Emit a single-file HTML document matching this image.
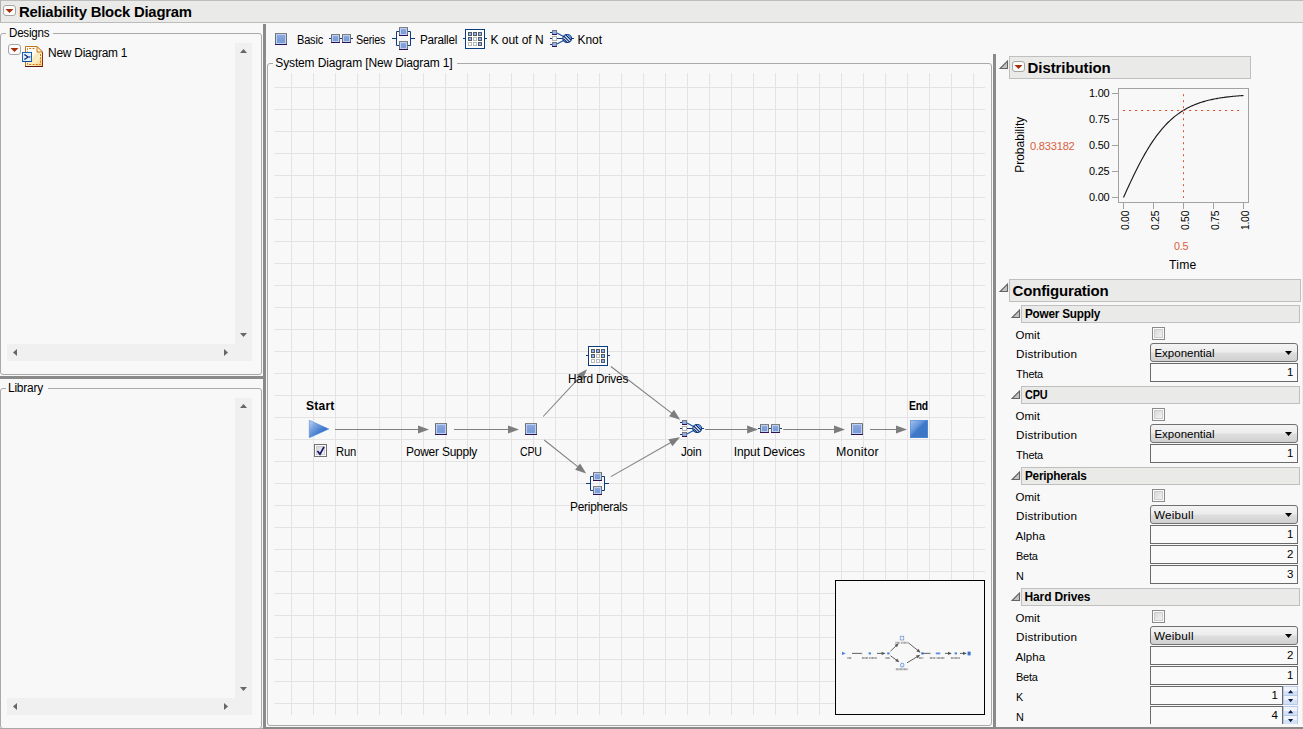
<!DOCTYPE html>
<html><head><meta charset="utf-8"><title>Reliability Block Diagram</title>
<style>
html,body{margin:0;padding:0;}
body{width:1303px;height:729px;overflow:hidden;background:#f8f8f8;position:relative;font-family:"Liberation Sans",sans-serif;font-size:12px;color:#000;}
.t{position:absolute;white-space:pre;font-family:"Liberation Sans",sans-serif;}
.a{position:absolute;}
.b{position:absolute;box-sizing:border-box;}
svg{position:absolute;overflow:visible;}
.hdr{position:absolute;box-sizing:border-box;background:#eaeae8;border:1px solid #bfbfbf;}
.fld{position:absolute;box-sizing:border-box;background:#fafafa;border:1px solid #6a6a6a;height:19px;}
.dd{position:absolute;box-sizing:border-box;height:19px;border:1px solid #707070;border-radius:3px;background:linear-gradient(#f4f4f4 0%,#ececec 48%,#dedede 52%,#d0d0d0 100%);}
.cb{position:absolute;box-sizing:border-box;width:13px;height:13px;border:1px solid #8e8f8f;background:#f4f4f4;}
.cb i{position:absolute;left:1px;top:1px;width:9px;height:9px;background:linear-gradient(135deg,#d6d6d6,#f6f6f6);border:0;}
.trk{position:absolute;background:#f0f0f0;}
.grp{position:absolute;box-sizing:border-box;border:1px solid #a9a9a9;border-radius:3px;}
.spl{position:absolute;background:#8a8a8a;}

</style></head>
<body>
<svg width="0" height="0" style="position:absolute"><defs>
<linearGradient id="gb" x1="0" y1="0" x2="0" y2="1"><stop offset="0" stop-color="#93b0e2"/><stop offset="0.5" stop-color="#7f9fd8"/><stop offset="1" stop-color="#7b9bd6"/></linearGradient>
<linearGradient id="gtri" x1="0" y1="0" x2="1" y2="0.9"><stop offset="0" stop-color="#c4d6f2"/><stop offset="0.3" stop-color="#7ea4e0"/><stop offset="0.65" stop-color="#3d78cc"/><stop offset="1" stop-color="#2f6cc4"/></linearGradient>
<linearGradient id="gend" x1="0" y1="0" x2="1" y2="1"><stop offset="0" stop-color="#a9c4ee"/><stop offset="0.35" stop-color="#6c9adc"/><stop offset="0.5" stop-color="#3e78c8"/><stop offset="1" stop-color="#3a74c4"/></linearGradient>
<linearGradient id="gdoc" x1="0" y1="0" x2="1" y2="1"><stop offset="0" stop-color="#ffffff"/><stop offset="0.42" stop-color="#fffdf0"/><stop offset="0.56" stop-color="#f5e6b2"/><stop offset="0.63" stop-color="#fcf1cb"/><stop offset="1" stop-color="#f6c46c"/></linearGradient>
<linearGradient id="gcb" x1="0" y1="0" x2="1" y2="1"><stop offset="0" stop-color="#d6d6d6"/><stop offset="0.5" stop-color="#e6e6e6"/><stop offset="1" stop-color="#f2f2f2"/></linearGradient>
<g id="bx12"><rect x="0.5" y="0.5" width="11" height="11" fill="url(#gb)" stroke="#6c7076"/><rect x="1.5" y="1.5" width="9" height="9" fill="none" stroke="#bcd0f6"/><rect x="0" y="0" width="12" height="1" fill="#818181"/><rect x="0" y="11" width="12" height="1" fill="#2d1152"/></g>
<g id="bx9"><rect x="0.5" y="0.5" width="8" height="8" fill="url(#gb)" stroke="#6c7076"/><rect x="1.5" y="1.5" width="6" height="6" fill="none" stroke="#bcd0f6"/><rect x="0" y="0" width="9" height="1" fill="#818181"/><rect x="0" y="8" width="9" height="1" fill="#2d1152"/></g>
<g id="bx5"><rect x="0.5" y="0.5" width="4" height="4" fill="#8fb0f0" stroke="#74787e"/><rect x="0" y="4" width="5" height="1" fill="#2d1152"/></g>
<g id="bx5w"><rect x="0.5" y="0.5" width="4" height="4" fill="#ffffff" stroke="#b4b4b4"/></g>
<g id="cf"><rect x="0.5" y="0.5" width="3" height="3" fill="#8fb4ff" stroke="#565a60"/></g>
<g id="ce"><rect x="0.5" y="0.5" width="3" height="3" fill="#ffffff" stroke="#b8b8b8"/></g>
<!-- series icon: origin at first stub (x=0..24, y=0..9) -->
<g id="iser"><rect x="0" y="4" width="24" height="1" fill="#0c3c80"/><use href="#bx9" x="2" y="0"/><use href="#bx9" x="13" y="0"/></g>
<!-- parallel icon: 23x23 -->
<g id="ipar"><path d="M0 11.5H4.5M18.5 11.5H23M7 4.5H4.5V18.5H7M16 4.5H18.5V18.5H16" fill="none" stroke="#0c3c80"/><use href="#bx9" x="7" y="0"/><use href="#bx9" x="7" y="14"/></g>
<!-- k of n icon: 24x20, box at x=2..22 -->
<g id="ikn"><rect x="0" y="9" width="24" height="1" fill="#0c3c80"/><rect x="2.5" y="0.5" width="19" height="19" fill="#ffffff" stroke="#0c3c80"/>
<use href="#cf" x="5" y="3"/><use href="#cf" x="10" y="3"/><use href="#cf" x="15" y="3"/>
<use href="#cf" x="5" y="8"/><use href="#ce" x="10" y="8"/><use href="#cf" x="15" y="8"/>
<use href="#ce" x="5" y="13"/><use href="#ce" x="10" y="13"/><use href="#cf" x="15" y="13"/></g>
<!-- knot icon: origin (550,30) => 24 x 17 -->
<g id="iknot"><path d="M0 2.5H2M0 8.5H2M0 14.5H2M7 8.5H13M22 8.5H24" stroke="#0c3c80" fill="none"/><path d="M7 3L13.5 6.5M7 14L13.5 10.5" stroke="#1a55a8" fill="none" stroke-width="1.2"/>
<use href="#bx5" x="2" y="0"/><use href="#bx5w" x="2" y="6"/><use href="#bx5" x="2" y="12"/>
<ellipse cx="17.2" cy="8.5" rx="4.35" ry="4.0" fill="#dfe9fb" stroke="#0c3c80" stroke-width="1.2"/><path d="M13.8 6.2L19.5 11.8M15.6 4.6L21 10M13.6 8.8L17.4 12.6" stroke="#06206a" stroke-width="1.1" fill="none"/><path d="M17.6 4.6L21 8" stroke="#3f7fd8" stroke-width="1" fill="none"/></g>
<g id="ah"><path d="M0 0L-11 -4L-11 4Z" fill="#7d7d7d"/></g>
</defs></svg>
<div class="a" style="left:0px;top:0px;width:1303px;height:23px;background:#eaeae8;border-top:1px solid #bdbdbd;border-bottom:1px solid #bcbcbc;border-left:1px solid #b0b0b0;box-sizing:border-box;"></div>
<svg style="left:3px;top:5px" width="13" height="11" viewBox="0 0 13 11"><rect x="0.5" y="0.5" width="12" height="10" rx="2.5" fill="#fbfbfb" stroke="#a6a6a6"/><path d="M2.5 4.0H10.5L6.5 8.0Z" fill="#a2300c"/></svg>
<span class="t" style="left:19.00px;top:4.00px;font-size:15px;line-height:15px;font-weight:700;letter-spacing:-0.220px;transform-origin:0 0;transform:scaleX(0.9902);">Reliability Block Diagram</span>
<div class="grp" style="left:0px;top:33px;width:262px;height:342px;"></div>
<div class="a" style="left:6px;top:33px;width:47px;height:1px;background:#f8f8f8;"></div>
<span class="t" style="left:8.50px;top:27.00px;font-size:12px;line-height:12px;letter-spacing:-0.220px;transform-origin:0 0;transform:scaleX(0.9630);">Designs</span>
<div class="grp" style="left:0px;top:388px;width:262px;height:341px;"></div>
<div class="a" style="left:6px;top:388px;width:42px;height:1px;background:#f8f8f8;"></div>
<span class="t" style="left:8.40px;top:382.00px;font-size:12px;line-height:12px;letter-spacing:-0.220px;transform-origin:0 0;transform:scaleX(0.9942);">Library</span>
<div class="trk" style="left:235px;top:43px;width:17px;height:318px;"></div>
<div class="trk" style="left:7px;top:344px;width:245px;height:17px;"></div>
<svg style="left:240px;top:49px" width="7" height="4" viewBox="0 0 7 4"><path d="M3.5 0L7 4H0Z" fill="#666"/></svg>
<svg style="left:240px;top:333px" width="7" height="4" viewBox="0 0 7 4"><path d="M0 0H7L3.5 4Z" fill="#666"/></svg>
<svg style="left:13px;top:349px" width="4" height="7" viewBox="0 0 4 7"><path d="M4 0V7L0 3.5Z" fill="#666"/></svg>
<svg style="left:224px;top:349px" width="4" height="7" viewBox="0 0 4 7"><path d="M0 0V7L4 3.5Z" fill="#666"/></svg>
<div class="trk" style="left:235px;top:398px;width:17px;height:317px;"></div>
<div class="trk" style="left:7px;top:698px;width:245px;height:17px;"></div>
<svg style="left:240px;top:404px" width="7" height="4" viewBox="0 0 7 4"><path d="M3.5 0L7 4H0Z" fill="#666"/></svg>
<svg style="left:240px;top:687px" width="7" height="4" viewBox="0 0 7 4"><path d="M0 0H7L3.5 4Z" fill="#666"/></svg>
<svg style="left:13px;top:703px" width="4" height="7" viewBox="0 0 4 7"><path d="M4 0V7L0 3.5Z" fill="#666"/></svg>
<svg style="left:224px;top:703px" width="4" height="7" viewBox="0 0 4 7"><path d="M0 0V7L4 3.5Z" fill="#666"/></svg>
<svg style="left:8px;top:44px" width="13" height="11" viewBox="0 0 13 11"><rect x="0.5" y="0.5" width="12" height="10" rx="2.5" fill="#fbfbfb" stroke="#a6a6a6"/><path d="M2.5 4.0H10.5L6.5 8.0Z" fill="#a2300c"/></svg>
<svg style="left:22px;top:46px" width="21" height="21" viewBox="0 0 21 21"><path d="M3.5 0.5H15L20.5 6V20.5H3.5Z" fill="url(#gdoc)" stroke="#c8741c"/>
<path d="M3 20.5H21" stroke="#5e1212"/><path d="M20.5 6.5V20.5" stroke="#8a3018"/>
<path d="M15 0.5V6H20.5Z" fill="#fff8d8" stroke="#c8741c"/>
<path d="M5.5 14V2.5H13M18.5 8V18.5H5.5V14" fill="none" stroke="#d07414" stroke-dasharray="2 1.3"/>
<rect x="0.5" y="6.5" width="9" height="9" fill="#e6edfa" stroke="#1c62b4"/><path d="M0.5 15.5H9.5" stroke="#0c4a9a"/>
<path d="M2.5 8.5L6 11L2.5 13.5M6 11H8" fill="none" stroke="#0a1f5c" stroke-width="1.1"/><rect x="2" y="8" width="1.5" height="1.5" fill="#3f7fe0"/><rect x="2" y="12.5" width="1.5" height="1.5" fill="#3f7fe0"/><rect x="7" y="10.2" width="1.5" height="1.5" fill="#3f7fe0"/></svg>
<span class="t" style="left:47.50px;top:46.70px;font-size:12px;line-height:12px;letter-spacing:-0.220px;transform-origin:0 0;transform:scaleX(0.9924);">New Diagram 1</span>
<div class="spl" style="left:263px;top:24px;width:3px;height:705px;"></div>
<div class="spl" style="left:0px;top:376px;width:263px;height:3px;"></div>
<div class="spl" style="left:993px;top:54px;width:3px;height:675px;"></div>
<div class="spl" style="left:263px;top:727px;width:1040px;height:2px;"></div>
<div class="a" style="left:0px;top:728px;width:263px;height:1px;background:#a8a8a8;"></div>
<svg style="left:275px;top:33px" width="12" height="12" viewBox="0 0 12 12"><use href="#bx12"/></svg>
<span class="t" style="left:296.50px;top:34.00px;font-size:12px;line-height:12px;letter-spacing:-0.220px;transform-origin:0 0;transform:scaleX(0.9195);">Basic</span>
<svg style="left:329px;top:34px" width="24" height="9" viewBox="0 0 24 9"><use href="#iser"/></svg>
<span class="t" style="left:356.40px;top:34.00px;font-size:12px;line-height:12px;letter-spacing:-0.220px;transform-origin:0 0;transform:scaleX(0.8936);">Series</span>
<svg style="left:392px;top:27px" width="23" height="23" viewBox="0 0 23 23"><use href="#ipar"/></svg>
<span class="t" style="left:419.60px;top:34.00px;font-size:12px;line-height:12px;letter-spacing:-0.220px;transform-origin:0 0;transform:scaleX(0.9698);">Parallel</span>
<svg style="left:463px;top:29px" width="24" height="20" viewBox="0 0 24 20"><use href="#ikn"/></svg>
<span class="t" style="left:490.50px;top:34.00px;font-size:12px;line-height:12px;letter-spacing:-0.031px;">K out of N</span>
<svg style="left:550px;top:30px" width="24" height="17" viewBox="0 0 24 17"><use href="#iknot"/></svg>
<span class="t" style="left:577.60px;top:34.00px;font-size:12px;line-height:12px;letter-spacing:-0.075px;">Knot</span>
<div class="grp" style="left:267px;top:63px;width:725px;height:663px;"></div>
<div class="a" style="left:273px;top:63px;width:184px;height:1px;background:#f8f8f8;"></div>
<span class="t" style="left:275.30px;top:57.00px;font-size:12px;line-height:12px;letter-spacing:-0.141px;">System Diagram [New Diagram 1]</span>
<svg style="left:274px;top:73px" width="711" height="642" viewBox="0 0 711 642"><g fill="#e3e3e3"><rect x="17" y="0" width="1" height="642" /><rect x="39" y="0" width="1" height="642" /><rect x="61" y="0" width="1" height="642" /><rect x="83" y="0" width="1" height="642" /><rect x="105" y="0" width="1" height="642" /><rect x="127" y="0" width="1" height="642" /><rect x="149" y="0" width="1" height="642" /><rect x="171" y="0" width="1" height="642" /><rect x="193" y="0" width="1" height="642" /><rect x="215" y="0" width="1" height="642" /><rect x="237" y="0" width="1" height="642" /><rect x="259" y="0" width="1" height="642" /><rect x="281" y="0" width="1" height="642" /><rect x="303" y="0" width="1" height="642" /><rect x="325" y="0" width="1" height="642" /><rect x="347" y="0" width="1" height="642" /><rect x="369" y="0" width="1" height="642" /><rect x="391" y="0" width="1" height="642" /><rect x="413" y="0" width="1" height="642" /><rect x="435" y="0" width="1" height="642" /><rect x="457" y="0" width="1" height="642" /><rect x="479" y="0" width="1" height="642" /><rect x="501" y="0" width="1" height="642" /><rect x="523" y="0" width="1" height="642" /><rect x="545" y="0" width="1" height="642" /><rect x="567" y="0" width="1" height="642" /><rect x="589" y="0" width="1" height="642" /><rect x="611" y="0" width="1" height="642" /><rect x="633" y="0" width="1" height="642" /><rect x="655" y="0" width="1" height="642" /><rect x="677" y="0" width="1" height="642" /><rect x="699" y="0" width="1" height="642" /><rect x="0" y="14" width="711" height="1" /><rect x="0" y="36" width="711" height="1" /><rect x="0" y="58" width="711" height="1" /><rect x="0" y="80" width="711" height="1" /><rect x="0" y="102" width="711" height="1" /><rect x="0" y="124" width="711" height="1" /><rect x="0" y="146" width="711" height="1" /><rect x="0" y="168" width="711" height="1" /><rect x="0" y="190" width="711" height="1" /><rect x="0" y="212" width="711" height="1" /><rect x="0" y="234" width="711" height="1" /><rect x="0" y="256" width="711" height="1" /><rect x="0" y="278" width="711" height="1" /><rect x="0" y="300" width="711" height="1" /><rect x="0" y="322" width="711" height="1" /><rect x="0" y="344" width="711" height="1" /><rect x="0" y="366" width="711" height="1" /><rect x="0" y="388" width="711" height="1" /><rect x="0" y="410" width="711" height="1" /><rect x="0" y="432" width="711" height="1" /><rect x="0" y="454" width="711" height="1" /><rect x="0" y="476" width="711" height="1" /><rect x="0" y="498" width="711" height="1" /><rect x="0" y="520" width="711" height="1" /><rect x="0" y="542" width="711" height="1" /><rect x="0" y="564" width="711" height="1" /><rect x="0" y="586" width="711" height="1" /><rect x="0" y="608" width="711" height="1" /><rect x="0" y="630" width="711" height="1" /></g></svg>
<svg style="left:0px;top:0px" width="1303" height="729" viewBox="0 0 1303 729"><path d="M309.3 420.3L328.8 429L309.3 437.7Z" fill="url(#gtri)" stroke="#4a86d6" stroke-width="0.6"/><path d="M335.0 429.5L421.0 429.5" stroke="#808080" stroke-width="1.05" fill="none"/><g transform="translate(429.0 429.5) rotate(0.00)"><use href="#ah"/></g><use href="#bx12" x="435" y="423"/><path d="M454.0 429.5L511.0 429.5" stroke="#808080" stroke-width="1.05" fill="none"/><g transform="translate(519.0 429.5) rotate(0.00)"><use href="#ah"/></g><use href="#bx12" x="525" y="423"/><path d="M543.2 416.5L581.6 375.2" stroke="#808080" stroke-width="1.05" fill="none"/><g transform="translate(587.0 369.3) rotate(-47.14)"><use href="#ah"/></g><path d="M544.2 440.0L579.9 468.4" stroke="#808080" stroke-width="1.05" fill="none"/><g transform="translate(586.2 473.4) rotate(38.49)"><use href="#ah"/></g><use href="#ikn" x="586" y="346"/><use href="#ipar" x="586" y="472"/><path d="M610.9 366.5L673.9 414.8" stroke="#808080" stroke-width="1.05" fill="none"/><g transform="translate(680.2 419.7) rotate(37.51)"><use href="#ah"/></g><path d="M610.9 476.6L673.0 441.3" stroke="#808080" stroke-width="1.05" fill="none"/><g transform="translate(680.0 437.3) rotate(-29.63)"><use href="#ah"/></g><use href="#iknot" x="680" y="420"/><path d="M705.0 429.5L750.1 429.5" stroke="#808080" stroke-width="1.05" fill="none"/><g transform="translate(758.1 429.5) rotate(0.00)"><use href="#ah"/></g><use href="#iser" x="758" y="424"/><path d="M783.2 429.5L837.0 429.5" stroke="#808080" stroke-width="1.05" fill="none"/><g transform="translate(845.0 429.5) rotate(0.00)"><use href="#ah"/></g><use href="#bx12" x="851" y="423"/><path d="M870.0 429.5L899.0 429.5" stroke="#808080" stroke-width="1.05" fill="none"/><g transform="translate(907.0 429.5) rotate(0.00)"><use href="#ah"/></g><rect x="910" y="420" width="18" height="18" fill="url(#gend)"/><rect x="910.5" y="420.5" width="17" height="17" fill="none" stroke="#5c90dc" stroke-opacity="0.6"/></svg>
<span class="t" style="left:306.10px;top:400.00px;font-size:12px;line-height:12px;font-weight:700;letter-spacing:0.206px;">Start</span>
<span class="t" style="left:908.50px;top:400.00px;font-size:12px;line-height:12px;font-weight:700;letter-spacing:-0.220px;transform-origin:0 0;transform:scaleX(0.8609);">End</span>
<svg style="left:314px;top:444px" width="13" height="13" viewBox="0 0 13 13"><rect x="0.5" y="0.5" width="12" height="12" fill="#fbfbfb" stroke="#737373"/><rect x="2.5" y="2.5" width="8" height="8" fill="url(#gcb)" stroke="#cdcdcd"/><path d="M3.5 6.9L6 10.2L10 2.9" fill="none" stroke="#15156c" stroke-width="1.7"/></svg>
<span class="t" style="left:335.50px;top:446.00px;font-size:12px;line-height:12px;letter-spacing:-0.220px;transform-origin:0 0;transform:scaleX(0.9369);">Run</span>
<span class="t" style="left:405.50px;top:446.00px;font-size:12px;line-height:12px;letter-spacing:-0.220px;transform-origin:0 0;transform:scaleX(0.9961);">Power Supply</span>
<span class="t" style="left:519.50px;top:446.00px;font-size:12px;line-height:12px;letter-spacing:-0.220px;transform-origin:0 0;transform:scaleX(0.8783);">CPU</span>
<span class="t" style="left:567.70px;top:373.00px;font-size:12px;line-height:12px;letter-spacing:-0.220px;transform-origin:0 0;transform:scaleX(0.9873);">Hard Drives</span>
<span class="t" style="left:569.50px;top:501.00px;font-size:12px;line-height:12px;letter-spacing:-0.220px;transform-origin:0 0;transform:scaleX(0.9855);">Peripherals</span>
<span class="t" style="left:681.00px;top:446.00px;font-size:12px;line-height:12px;letter-spacing:-0.220px;transform-origin:0 0;transform:scaleX(0.9700);">Join</span>
<span class="t" style="left:733.80px;top:446.00px;font-size:12px;line-height:12px;letter-spacing:-0.129px;">Input Devices</span>
<span class="t" style="left:835.70px;top:446.00px;font-size:12px;line-height:12px;letter-spacing:0.220px;transform-origin:0 0;transform:scaleX(1.0310);">Monitor</span>
<div class="a" style="left:835px;top:580px;width:150px;height:135px;background:#f8f8f8;border:1px solid #000;box-sizing:border-box;"></div>
<svg style="left:0px;top:0px" width="1303" height="729" viewBox="0 0 1303 729"><path d="M842 651.8L845.8 653.4L842 655Z" fill="#4a82dc"/><path d="M852 653.4L862 653.4" stroke="#505050" stroke-width="0.9" fill="none"/><rect x="861.7" y="651.6" width="0.6" height="3.4" fill="#cfcfcf"/><rect x="868.6" y="652.4" width="2.4" height="2" fill="#4a82dc"/><path d="M877 653.4L884.6 653.4" stroke="#505050" stroke-width="0.9" fill="none"/><g transform="translate(884.6 653.4) rotate(0.0)"><path d="M0.8 0L-3 -1.7V1.7Z" fill="#555"/></g><rect x="887.2" y="652.4" width="2.4" height="2" fill="#4a82dc"/><path d="M890.5 651.2L898 644" stroke="#505050" stroke-width="0.9" fill="none"/><g transform="translate(898 644) rotate(-43.8)"><path d="M0.8 0L-3 -1.7V1.7Z" fill="#555"/></g><path d="M890.5 655.8L898.6 661.6" stroke="#505050" stroke-width="0.9" fill="none"/><g transform="translate(898.6 661.6) rotate(35.6)"><path d="M0.8 0L-3 -1.7V1.7Z" fill="#555"/></g><rect x="900.2" y="636.2" width="3.6" height="3.8" fill="#eef3fc" stroke="#5c80c0" stroke-width="0.6"/><rect x="900.6" y="663.2" width="3.2" height="3.8" rx="1.4" fill="#eef3fc" stroke="#4a82dc" stroke-width="0.8"/><path d="M908.2 642.7L919.8 652" stroke="#505050" stroke-width="0.9" fill="none"/><g transform="translate(919.8 652) rotate(38.7)"><path d="M0.8 0L-3 -1.7V1.7Z" fill="#555"/></g><path d="M907 662.8L919.4 655.4" stroke="#505050" stroke-width="0.9" fill="none"/><g transform="translate(919.4 655.4) rotate(-30.8)"><path d="M0.8 0L-3 -1.7V1.7Z" fill="#555"/></g><rect x="921.3" y="652.4" width="2.4" height="2" fill="#2f62c0"/><path d="M923.6 653.4L930.3 653.4" stroke="#505050" stroke-width="0.9" fill="none"/><rect x="930" y="651.6" width="0.6" height="3.4" fill="#cfcfcf"/><rect x="935.8" y="652.5" width="4.4" height="1.8" fill="#5a8ce0"/><path d="M945 653.4L951 653.4" stroke="#505050" stroke-width="0.9" fill="none"/><g transform="translate(951 653.4) rotate(0.0)"><path d="M0.8 0L-3 -1.7V1.7Z" fill="#555"/></g><rect x="954.6" y="652.4" width="2.4" height="2" fill="#4a82dc"/><path d="M960 653.4L966 653.4" stroke="#505050" stroke-width="0.9" fill="none"/><g transform="translate(966 653.4) rotate(0.0)"><path d="M0.8 0L-3 -1.7V1.7Z" fill="#555"/></g><rect x="967.6" y="651.6" width="3" height="3.8" fill="#3a74d0"/><path d="M847.48 657.88H851.66" stroke="#6e6e6e" stroke-opacity="0.75" stroke-width="2" stroke-dasharray="0.9 0.45" fill="none"/><path d="M861.96 657.88H868.10" stroke="#6e6e6e" stroke-opacity="0.75" stroke-width="2" stroke-dasharray="0.9 0.45" fill="none"/><path d="M869.33 657.88H876.70" stroke="#6e6e6e" stroke-opacity="0.75" stroke-width="2" stroke-dasharray="0.9 0.45" fill="none"/><path d="M885.53 657.88H890.06" stroke="#6e6e6e" stroke-opacity="0.75" stroke-width="2" stroke-dasharray="0.9 0.45" fill="none"/><path d="M895.50 642.78H900.04" stroke="#6e6e6e" stroke-opacity="0.75" stroke-width="2" stroke-dasharray="0.9 0.45" fill="none"/><path d="M901.18 642.78H907.99" stroke="#6e6e6e" stroke-opacity="0.75" stroke-width="2" stroke-dasharray="0.9 0.45" fill="none"/><path d="M895.87 669.25H907.80" stroke="#6e6e6e" stroke-opacity="0.75" stroke-width="2" stroke-dasharray="0.9 0.45" fill="none"/><path d="M918.93 657.88H923.21" stroke="#6e6e6e" stroke-opacity="0.75" stroke-width="2" stroke-dasharray="0.9 0.45" fill="none"/><path d="M929.85 657.88H935.51" stroke="#6e6e6e" stroke-opacity="0.75" stroke-width="2" stroke-dasharray="0.9 0.45" fill="none"/><path d="M936.64 657.88H944.57" stroke="#6e6e6e" stroke-opacity="0.75" stroke-width="2" stroke-dasharray="0.9 0.45" fill="none"/><path d="M950.92 657.88H959.73" stroke="#6e6e6e" stroke-opacity="0.75" stroke-width="2" stroke-dasharray="0.9 0.45" fill="none"/></svg>
<svg style="left:999px;top:60px" width="9" height="9" viewBox="0 0 9 9"><path d="M8.5 1.1V8.5H1.1Z" fill="#c4c4c4" stroke="#646464" stroke-width="1.1" stroke-linejoin="miter"/></svg>
<div class="hdr" style="left:1009px;top:56px;width:242px;height:23px;"></div>
<svg style="left:1012px;top:61px" width="13" height="11" viewBox="0 0 13 11"><rect x="0.5" y="0.5" width="12" height="10" rx="2.5" fill="#fbfbfb" stroke="#a6a6a6"/><path d="M2.5 4.0H10.5L6.5 8.0Z" fill="#a2300c"/></svg>
<span class="t" style="left:1027.60px;top:60.00px;font-size:15px;line-height:15px;font-weight:700;letter-spacing:-0.093px;">Distribution</span>
<svg style="left:0px;top:0px" width="1303" height="729" viewBox="0 0 1303 729"><rect x="1118.5" y="88.5" width="130" height="114" fill="#f8f8f8" stroke="#a2a2a2"/><rect x="1112" y="93" width="6" height="1" fill="#a2a2a2"/><rect x="1112" y="119" width="6" height="1" fill="#a2a2a2"/><rect x="1112" y="145" width="6" height="1" fill="#a2a2a2"/><rect x="1112" y="171" width="6" height="1" fill="#a2a2a2"/><rect x="1112" y="197" width="6" height="1" fill="#a2a2a2"/><rect x="1123" y="203" width="1" height="6" fill="#a2a2a2"/><rect x="1153" y="203" width="1" height="6" fill="#a2a2a2"/><rect x="1183" y="203" width="1" height="6" fill="#a2a2a2"/><rect x="1213" y="203" width="1" height="6" fill="#a2a2a2"/><rect x="1243" y="203" width="1" height="6" fill="#a2a2a2"/><path d="M1123.5 197.40L1124.5 195.19L1125.5 192.99L1126.5 190.79L1127.5 188.61L1128.5 186.43L1129.5 184.27L1130.5 182.13L1131.5 180.01L1132.5 177.90L1133.5 175.82L1134.5 173.76L1135.5 171.72L1136.5 169.71L1137.5 167.72L1138.5 165.76L1139.5 163.83L1140.5 161.93L1141.5 160.06L1142.5 158.22L1143.5 156.41L1144.5 154.63L1145.5 152.89L1146.5 151.18L1147.5 149.50L1148.5 147.86L1149.5 146.25L1150.5 144.67L1151.5 143.13L1152.5 141.63L1153.5 140.15L1154.5 138.71L1155.5 137.31L1156.5 135.94L1157.5 134.60L1158.5 133.29L1159.5 132.02L1160.5 130.79L1161.5 129.58L1162.5 128.41L1163.5 127.26L1164.5 126.15L1165.5 125.07L1166.5 124.02L1167.5 123.00L1168.5 122.01L1169.5 121.05L1170.5 120.12L1171.5 119.21L1172.5 118.34L1173.5 117.49L1174.5 116.66L1175.5 115.86L1176.5 115.09L1177.5 114.34L1178.5 113.61L1179.5 112.91L1180.5 112.23L1181.5 111.57L1182.5 110.93L1183.5 110.32L1184.5 109.72L1185.5 109.15L1186.5 108.59L1187.5 108.05L1188.5 107.54L1189.5 107.04L1190.5 106.55L1191.5 106.09L1192.5 105.63L1193.5 105.20L1194.5 104.78L1195.5 104.38L1196.5 103.99L1197.5 103.61L1198.5 103.25L1199.5 102.90L1200.5 102.56L1201.5 102.23L1202.5 101.92L1203.5 101.62L1204.5 101.33L1205.5 101.05L1206.5 100.78L1207.5 100.52L1208.5 100.27L1209.5 100.03L1210.5 99.79L1211.5 99.57L1212.5 99.35L1213.5 99.15L1214.5 98.95L1215.5 98.75L1216.5 98.57L1217.5 98.39L1218.5 98.22L1219.5 98.05L1220.5 97.90L1221.5 97.74L1222.5 97.60L1223.5 97.45L1224.5 97.32L1225.5 97.19L1226.5 97.06L1227.5 96.94L1228.5 96.82L1229.5 96.71L1230.5 96.60L1231.5 96.50L1232.5 96.40L1233.5 96.30L1234.5 96.21L1235.5 96.12L1236.5 96.03L1237.5 95.95L1238.5 95.87L1239.5 95.80L1240.5 95.72L1241.5 95.65L1242.5 95.58L1243.5 95.52" fill="none" stroke="#1c1c1c" stroke-width="1.15" stroke-linejoin="round"/><path d="M1183.5 94.2V198" stroke="#e2512c" stroke-width="1" stroke-dasharray="2 4" fill="none"/><path d="M1123 110.5H1240" stroke="#e2512c" stroke-width="1" stroke-dasharray="2.2 3.8" fill="none"/></svg>
<span class="t" style="left:1088.70px;top:87.80px;font-size:11.5px;line-height:11.5px;letter-spacing:-0.220px;transform-origin:0 0;transform:scaleX(0.9487);">1.00</span>
<span class="t" style="left:1088.70px;top:113.80px;font-size:11.5px;line-height:11.5px;letter-spacing:-0.220px;transform-origin:0 0;transform:scaleX(0.9487);">0.75</span>
<span class="t" style="left:1088.70px;top:139.80px;font-size:11.5px;line-height:11.5px;letter-spacing:-0.220px;transform-origin:0 0;transform:scaleX(0.9487);">0.50</span>
<span class="t" style="left:1088.70px;top:165.80px;font-size:11.5px;line-height:11.5px;letter-spacing:-0.220px;transform-origin:0 0;transform:scaleX(0.9487);">0.25</span>
<span class="t" style="left:1088.70px;top:191.80px;font-size:11.5px;line-height:11.5px;letter-spacing:-0.220px;transform-origin:0 0;transform:scaleX(0.9487);">0.00</span>
<span class="t" style="left:0;top:0;font-size:11.5px;line-height:11.5px;letter-spacing:-0.220px;transform-origin:0 0;transform:translate(1128.90px,230.10px) rotate(-90deg) scaleX(0.8980) translate(-0.00px,-9.00px);">0.00</span>
<span class="t" style="left:0;top:0;font-size:11.5px;line-height:11.5px;letter-spacing:-0.220px;transform-origin:0 0;transform:translate(1158.90px,230.10px) rotate(-90deg) scaleX(0.8980) translate(-0.00px,-9.00px);">0.25</span>
<span class="t" style="left:0;top:0;font-size:11.5px;line-height:11.5px;letter-spacing:-0.220px;transform-origin:0 0;transform:translate(1188.90px,230.10px) rotate(-90deg) scaleX(0.8980) translate(-0.00px,-9.00px);">0.50</span>
<span class="t" style="left:0;top:0;font-size:11.5px;line-height:11.5px;letter-spacing:-0.220px;transform-origin:0 0;transform:translate(1218.90px,230.10px) rotate(-90deg) scaleX(0.8980) translate(-0.00px,-9.00px);">0.75</span>
<span class="t" style="left:0;top:0;font-size:11.5px;line-height:11.5px;letter-spacing:-0.220px;transform-origin:0 0;transform:translate(1248.90px,230.10px) rotate(-90deg) scaleX(0.8980) translate(-0.00px,-9.00px);">1.00</span>
<span class="t" style="left:0;top:0;font-size:12px;line-height:12px;letter-spacing:0.000px;transform-origin:0 0;transform:translate(1024.00px,172.80px) rotate(-90deg) scaleX(1.0000) translate(-0.00px,-10.00px);">Probability</span>
<span class="t" style="left:1029.60px;top:141.00px;font-size:11.5px;line-height:11.5px;letter-spacing:-0.220px;transform-origin:0 0;transform:scaleX(0.9643);color:#d8603c;">0.833182</span>
<span class="t" style="left:1173.70px;top:241.40px;font-size:11.5px;line-height:11.5px;letter-spacing:-0.220px;transform-origin:0 0;transform:scaleX(0.9383);color:#d8603c;">0.5</span>
<span class="t" style="left:1169.40px;top:259.00px;font-size:12px;line-height:12px;letter-spacing:0.220px;transform-origin:0 0;transform:scaleX(1.0145);">Time</span>
<svg style="left:999px;top:283px" width="9" height="9" viewBox="0 0 9 9"><path d="M8.5 1.1V8.5H1.1Z" fill="#c4c4c4" stroke="#646464" stroke-width="1.1" stroke-linejoin="miter"/></svg>
<div class="hdr" style="left:1009px;top:279px;width:292px;height:23px;"></div>
<span class="t" style="left:1012.60px;top:283.00px;font-size:15px;line-height:15px;font-weight:700;letter-spacing:-0.181px;">Configuration</span>
<svg style="left:1011px;top:309px" width="9" height="9" viewBox="0 0 9 9"><path d="M8.5 1.1V8.5H1.1Z" fill="#c4c4c4" stroke="#646464" stroke-width="1.1" stroke-linejoin="miter"/></svg>
<div class="hdr" style="left:1021px;top:305px;width:279px;height:18px;"></div>
<span class="t" style="left:1024.60px;top:308.00px;font-size:12px;line-height:12px;font-weight:700;letter-spacing:-0.220px;transform-origin:0 0;transform:scaleX(0.9785);">Power Supply</span>
<span class="t" style="left:1015.50px;top:330.00px;font-size:11.5px;line-height:11.5px;letter-spacing:0.017px;">Omit</span>
<svg style="left:1152px;top:327px" width="13" height="13" viewBox="0 0 13 13"><rect x="0.5" y="0.5" width="12" height="12" fill="#fbfbfb" stroke="#8a8a8a"/><rect x="2.5" y="2.5" width="8" height="8" fill="url(#gcb)" stroke="#cdcdcd"/></svg>
<span class="t" style="left:1015.50px;top:349.00px;font-size:11.5px;line-height:11.5px;letter-spacing:0.220px;transform-origin:0 0;transform:scaleX(1.0180);">Distribution</span>
<div class="dd" style="left:1150px;top:343px;width:148px;height:19px;"></div>
<span class="t" style="left:1154.40px;top:348.00px;font-size:11.5px;line-height:11.5px;letter-spacing:0.008px;">Exponential</span>
<svg style="left:1285px;top:351px" width="7" height="4" viewBox="0 0 7 4"><path d="M0 0H7L3.5 4Z" fill="#000"/></svg>
<span class="t" style="left:1015.50px;top:369.00px;font-size:11.5px;line-height:11.5px;letter-spacing:-0.220px;transform-origin:0 0;transform:scaleX(0.9539);">Theta</span>
<div class="fld" style="left:1150px;top:363px;width:148px;height:19px;"></div>
<span class="t" style="left:1286.92px;top:367.00px;font-size:11.5px;line-height:11.5px;">1</span>
<svg style="left:1011px;top:390px" width="9" height="9" viewBox="0 0 9 9"><path d="M8.5 1.1V8.5H1.1Z" fill="#c4c4c4" stroke="#646464" stroke-width="1.1" stroke-linejoin="miter"/></svg>
<div class="hdr" style="left:1021px;top:386px;width:279px;height:18px;"></div>
<span class="t" style="left:1024.60px;top:389.00px;font-size:12px;line-height:12px;font-weight:700;letter-spacing:-0.220px;transform-origin:0 0;transform:scaleX(0.9064);">CPU</span>
<span class="t" style="left:1015.50px;top:411.00px;font-size:11.5px;line-height:11.5px;letter-spacing:0.017px;">Omit</span>
<svg style="left:1152px;top:408px" width="13" height="13" viewBox="0 0 13 13"><rect x="0.5" y="0.5" width="12" height="12" fill="#fbfbfb" stroke="#8a8a8a"/><rect x="2.5" y="2.5" width="8" height="8" fill="url(#gcb)" stroke="#cdcdcd"/></svg>
<span class="t" style="left:1015.50px;top:430.00px;font-size:11.5px;line-height:11.5px;letter-spacing:0.220px;transform-origin:0 0;transform:scaleX(1.0180);">Distribution</span>
<div class="dd" style="left:1150px;top:424px;width:148px;height:19px;"></div>
<span class="t" style="left:1154.40px;top:429.00px;font-size:11.5px;line-height:11.5px;letter-spacing:0.008px;">Exponential</span>
<svg style="left:1285px;top:432px" width="7" height="4" viewBox="0 0 7 4"><path d="M0 0H7L3.5 4Z" fill="#000"/></svg>
<span class="t" style="left:1015.50px;top:450.00px;font-size:11.5px;line-height:11.5px;letter-spacing:-0.220px;transform-origin:0 0;transform:scaleX(0.9539);">Theta</span>
<div class="fld" style="left:1150px;top:444px;width:148px;height:19px;"></div>
<span class="t" style="left:1286.92px;top:448.00px;font-size:11.5px;line-height:11.5px;">1</span>
<svg style="left:1011px;top:471px" width="9" height="9" viewBox="0 0 9 9"><path d="M8.5 1.1V8.5H1.1Z" fill="#c4c4c4" stroke="#646464" stroke-width="1.1" stroke-linejoin="miter"/></svg>
<div class="hdr" style="left:1021px;top:467px;width:279px;height:18px;"></div>
<span class="t" style="left:1024.60px;top:470.00px;font-size:12px;line-height:12px;font-weight:700;letter-spacing:-0.220px;transform-origin:0 0;transform:scaleX(0.9767);">Peripherals</span>
<span class="t" style="left:1015.50px;top:492.00px;font-size:11.5px;line-height:11.5px;letter-spacing:0.017px;">Omit</span>
<svg style="left:1152px;top:489px" width="13" height="13" viewBox="0 0 13 13"><rect x="0.5" y="0.5" width="12" height="12" fill="#fbfbfb" stroke="#8a8a8a"/><rect x="2.5" y="2.5" width="8" height="8" fill="url(#gcb)" stroke="#cdcdcd"/></svg>
<span class="t" style="left:1015.50px;top:511.00px;font-size:11.5px;line-height:11.5px;letter-spacing:0.220px;transform-origin:0 0;transform:scaleX(1.0180);">Distribution</span>
<div class="dd" style="left:1150px;top:505px;width:148px;height:19px;"></div>
<span class="t" style="left:1154.40px;top:510.00px;font-size:11.5px;line-height:11.5px;letter-spacing:0.220px;transform-origin:0 0;transform:scaleX(1.0175);">Weibull</span>
<svg style="left:1285px;top:513px" width="7" height="4" viewBox="0 0 7 4"><path d="M0 0H7L3.5 4Z" fill="#000"/></svg>
<span class="t" style="left:1015.50px;top:531.00px;font-size:11.5px;line-height:11.5px;letter-spacing:0.050px;">Alpha</span>
<div class="fld" style="left:1150px;top:525px;width:148px;height:19px;"></div>
<span class="t" style="left:1286.92px;top:529.00px;font-size:11.5px;line-height:11.5px;">1</span>
<span class="t" style="left:1015.50px;top:551.00px;font-size:11.5px;line-height:11.5px;letter-spacing:-0.220px;transform-origin:0 0;transform:scaleX(0.9528);">Beta</span>
<div class="fld" style="left:1150px;top:545px;width:148px;height:19px;"></div>
<span class="t" style="left:1286.92px;top:549.00px;font-size:11.5px;line-height:11.5px;">2</span>
<span class="t" style="left:1015.50px;top:571.00px;font-size:11.5px;line-height:11.5px;transform-origin:0 0;transform:scaleX(0.9400);">N</span>
<div class="fld" style="left:1150px;top:565px;width:148px;height:19px;"></div>
<span class="t" style="left:1286.92px;top:569.00px;font-size:11.5px;line-height:11.5px;">3</span>
<svg style="left:1011px;top:592px" width="9" height="9" viewBox="0 0 9 9"><path d="M8.5 1.1V8.5H1.1Z" fill="#c4c4c4" stroke="#646464" stroke-width="1.1" stroke-linejoin="miter"/></svg>
<div class="hdr" style="left:1021px;top:588px;width:279px;height:18px;"></div>
<span class="t" style="left:1024.60px;top:591.00px;font-size:12px;line-height:12px;font-weight:700;letter-spacing:-0.158px;">Hard Drives</span>
<span class="t" style="left:1015.50px;top:613.00px;font-size:11.5px;line-height:11.5px;letter-spacing:0.017px;">Omit</span>
<svg style="left:1152px;top:610px" width="13" height="13" viewBox="0 0 13 13"><rect x="0.5" y="0.5" width="12" height="12" fill="#fbfbfb" stroke="#8a8a8a"/><rect x="2.5" y="2.5" width="8" height="8" fill="url(#gcb)" stroke="#cdcdcd"/></svg>
<span class="t" style="left:1015.50px;top:632.00px;font-size:11.5px;line-height:11.5px;letter-spacing:0.220px;transform-origin:0 0;transform:scaleX(1.0180);">Distribution</span>
<div class="dd" style="left:1150px;top:626px;width:148px;height:19px;"></div>
<span class="t" style="left:1154.40px;top:631.00px;font-size:11.5px;line-height:11.5px;letter-spacing:0.220px;transform-origin:0 0;transform:scaleX(1.0175);">Weibull</span>
<svg style="left:1285px;top:634px" width="7" height="4" viewBox="0 0 7 4"><path d="M0 0H7L3.5 4Z" fill="#000"/></svg>
<span class="t" style="left:1015.50px;top:652.00px;font-size:11.5px;line-height:11.5px;letter-spacing:0.050px;">Alpha</span>
<div class="fld" style="left:1150px;top:646px;width:148px;height:19px;"></div>
<span class="t" style="left:1286.92px;top:650.00px;font-size:11.5px;line-height:11.5px;">2</span>
<span class="t" style="left:1015.50px;top:672.00px;font-size:11.5px;line-height:11.5px;letter-spacing:-0.220px;transform-origin:0 0;transform:scaleX(0.9528);">Beta</span>
<div class="fld" style="left:1150px;top:666px;width:148px;height:19px;"></div>
<span class="t" style="left:1286.92px;top:670.00px;font-size:11.5px;line-height:11.5px;">1</span>
<span class="t" style="left:1015.50px;top:692.00px;font-size:11.5px;line-height:11.5px;transform-origin:0 0;transform:scaleX(0.9400);">K</span>
<div class="fld" style="left:1150px;top:686px;width:133px;height:19px;"></div>
<span class="t" style="left:1271.42px;top:690.00px;font-size:11.5px;line-height:11.5px;">1</span>
<svg style="left:1283px;top:686px" width="15" height="19" viewBox="0 0 15 19"><rect x="0.5" y="0.5" width="14" height="9" fill="#f1f4fa" stroke="#b4c8ea"/><rect x="0.5" y="9.5" width="14" height="9" fill="#f1f4fa" stroke="#b4c8ea"/><rect x="1" y="5" width="13" height="4" fill="#d5e1f4"/><rect x="1" y="14" width="13" height="4" fill="#d5e1f4"/><path d="M5 7.2H10.2L7.6 4Z" fill="#0c1c4c"/><path d="M5 13H10.2L7.6 16.2Z" fill="#0c1c4c"/></svg>
<span class="t" style="left:1015.50px;top:712.00px;font-size:11.5px;line-height:11.5px;transform-origin:0 0;transform:scaleX(0.9400);">N</span>
<div class="fld" style="left:1150px;top:706px;width:133px;height:19px;"></div>
<span class="t" style="left:1271.42px;top:710.00px;font-size:11.5px;line-height:11.5px;">4</span>
<svg style="left:1283px;top:706px" width="15" height="19" viewBox="0 0 15 19"><rect x="0.5" y="0.5" width="14" height="9" fill="#f1f4fa" stroke="#b4c8ea"/><rect x="0.5" y="9.5" width="14" height="9" fill="#f1f4fa" stroke="#b4c8ea"/><rect x="1" y="5" width="13" height="4" fill="#d5e1f4"/><rect x="1" y="14" width="13" height="4" fill="#d5e1f4"/><path d="M5 7.2H10.2L7.6 4Z" fill="#0c1c4c"/><path d="M5 13H10.2L7.6 16.2Z" fill="#0c1c4c"/></svg>
<div class="a" style="left:1302px;top:23px;width:1px;height:704px;background:#e9e9e9;"></div>
<div class="a" style="left:996px;top:724px;width:307px;height:3px;background:#f8f8f8;"></div>
</body></html>
